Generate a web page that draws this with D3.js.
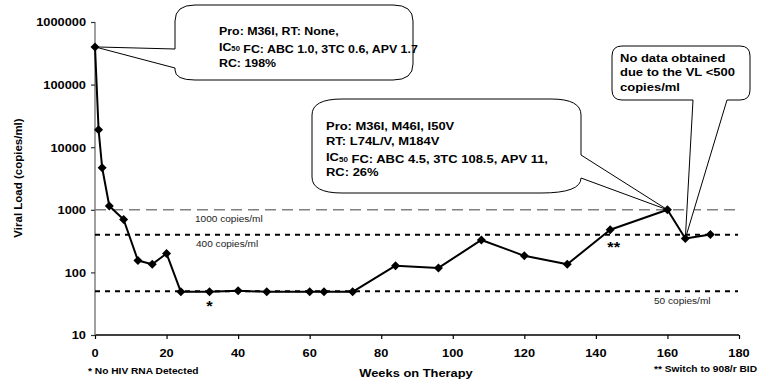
<!DOCTYPE html>
<html>
<head>
<meta charset="utf-8">
<script src="https://cdn.jsdelivr.net/npm/d3@7"></script>
<style>
  body { margin: 0; background: #fff; }
  svg { font-family: Arial, "Liberation Sans", sans-serif; }
</style>
</head>
<body>
<div id="chart"></div>
<script>
///////////////////////////
// DATA
///////////////////////////

const weeks = [0, 1, 2, 4, 8, 12, 16, 20, 24, 32, 40, 48, 60, 64, 72, 84, 96, 108, 120, 132, 144, 160, 165, 172];
const viralLoad = [400000, 19000, 4700, 1150, 700, 155, 135, 200, 49, 49, 51, 49, 49, 49, 49, 128, 118, 330, 184, 135, 480, 1000, 347, 402];

const xTicks = [0, 20, 40, 60, 80, 100, 120, 140, 160, 180];
const yTicks = [10, 100, 1000, 10000, 100000, 1000000];

const refValues = [1000, 400, 50];
const refLabels = ['1000 copies/ml', '400 copies/ml', '50 copies/ml'];

const box1Lines = ['Pro: M36I, RT: None,', 'IC|50| FC: ABC 1.0, 3TC 0.6, APV 1.7', 'RC: 198%'];
const box2Lines = ['Pro: M36I, M46I, I50V', 'RT: L74L/V, M184V', 'IC|50| FC: ABC 4.5, 3TC 108.5, APV 11,', 'RC: 26%'];
const box3Lines = ['No data obtained', 'due to the VL <500', 'copies/ml'];

///////////////////////////
// SETUP
///////////////////////////

const width = 759;
const height = 381;
const plot = { left: 95, right: 739, top: 22, bottom: 335 };

const svg = d3.select('#chart')
    .append('svg')
    .attr('width', width)
    .attr('height', height);

const x = d3.scaleLinear().domain([0, 180]).range([plot.left, plot.right]);
const y = d3.scaleLog().domain([10, 1000000]).range([plot.bottom, plot.top]);

const data = weeks.map((w, i) => ({ week: w, vl: viralLoad[i] }));

// text is a bit wide in the original, so stretch horizontally
const addText = (g, tx, ty, str, opts) => {
    const sx = opts.sx || 1;
    const t = g.append('text')
        .attr('transform', `translate(${tx},${ty}) scale(${sx},1)`)
        .attr('font-size', opts.size)
        .attr('font-weight', opts.weight || 'bold')
        .attr('fill', opts.fill || '#000')
        .attr('text-anchor', opts.anchor || 'start')
        .attr('dominant-baseline', 'central');
    // "|50|" marks a subscript
    str.split('|').forEach((part, i) => {
        if (!part) return;
        if (i % 2 === 1) {
            t.append('tspan').attr('font-size', opts.size * 0.62).attr('dy', 2).text(part);
            t.append('tspan').attr('dy', -2).text('');
        } else {
            t.append('tspan').text(part);
        }
    });
    return t;
}

///////////////////////////
// AXES
///////////////////////////

const xAxis = svg.append('g')
    .attr('transform', `translate(0,${plot.bottom})`)
    .call(d3.axisBottom(x).tickValues(xTicks).tickSize(4).tickFormat(''));
xAxis.select('.domain').attr('stroke', '#000').attr('stroke-width', 1.5).attr('d', `M${plot.left},0H${plot.right}`);
xAxis.selectAll('.tick line').attr('stroke', '#000').attr('stroke-width', 1.2);

const yAxis = svg.append('g')
    .attr('transform', `translate(${plot.left},0)`)
    .call(d3.axisLeft(y).tickValues(yTicks).tickSize(4).tickFormat(''));
yAxis.select('.domain').attr('stroke', '#808080').attr('stroke-width', 1.5).attr('d', `M0,${plot.top}V${plot.bottom}`);
yAxis.selectAll('.tick line').attr('stroke', '#333').attr('stroke-width', 1.2);

const labels = svg.append('g');
xTicks.forEach(t => addText(labels, x(t), 353, String(t), { size: 10.5, sx: 1.22, anchor: 'middle' }));
yTicks.forEach(t => addText(labels, plot.left - 9, y(t), String(t), { size: 10.5, sx: 1.22, anchor: 'end' }));

addText(labels, 416, 373, 'Weeks on Therapy', { size: 11.5, sx: 1.12, anchor: 'middle' });
labels.append('text')
    .attr('transform', `translate(18,178) rotate(-90)`)
    .attr('text-anchor', 'middle')
    .attr('dominant-baseline', 'central')
    .attr('font-size', 11.5)
    .attr('font-weight', 'bold')
    .text('Viral Load (copies/ml)');

///////////////////////////
// REFERENCE LINES
///////////////////////////

const refStyle = [
    { stroke: '#808080', dash: '11,6', w: 1.5 },
    { stroke: '#000', dash: '5,5', w: 2 },
    { stroke: '#000', dash: '5,5', w: 2 }
];

svg.append('g').selectAll('line')
    .data(refValues)
    .enter().append('line')
    .attr('x1', plot.left)
    .attr('x2', plot.right - 1)
    .attr('y1', d => y(d))
    .attr('y2', d => y(d))
    .attr('stroke', (d, i) => refStyle[i].stroke)
    .attr('stroke-width', (d, i) => refStyle[i].w)
    .attr('stroke-dasharray', (d, i) => refStyle[i].dash);

const refText = svg.append('g');
addText(refText, 195, y(refValues[0]) + 8, refLabels[0], { size: 9, sx: 1.12, weight: 'normal', fill: '#222' });
addText(refText, 196, y(refValues[1]) + 9, refLabels[1], { size: 9, sx: 1.12, weight: 'normal', fill: '#222' });
addText(refText, 654, y(refValues[2]) + 9, refLabels[2], { size: 9, sx: 1.12, weight: 'normal', fill: '#222' });

///////////////////////////
// CALLOUTS
///////////////////////////

const callouts = svg.append('g')
    .attr('fill', '#fff')
    .attr('stroke', '#000')
    .attr('stroke-width', 1);

// box 1 - pointer leaves the left side
{
    const x0 = 175, y0 = 5, x1 = 413, y1 = 80, rx = 20, ry = 16;
    const tx = x(weeks[0]), ty = y(viralLoad[0]);
    const p = d3.path();
    p.moveTo(x0 + rx, y0);
    p.lineTo(x1 - rx, y0);
    p.quadraticCurveTo(x1, y0, x1, y0 + ry);
    p.lineTo(x1, y1 - ry);
    p.quadraticCurveTo(x1, y1, x1 - rx, y1);
    p.lineTo(x0 + rx, y1);
    p.quadraticCurveTo(x0, y1, x0, y1 - 10);
    p.lineTo(x0, 68);
    p.lineTo(tx, ty);
    p.lineTo(x0, 49);
    p.lineTo(x0, y0 + ry);
    p.quadraticCurveTo(x0, y0, x0 + rx, y0);
    p.closePath();
    callouts.append('path').attr('d', p.toString());
    box1Lines.forEach((l, i) => addText(svg, 219, 31 + i * 16, l, { size: 10.5, sx: 1.18 }));
}

// box 2 - pointer leaves the lower right corner
{
    const x0 = 312, y0 = 99, x1 = 581, y1 = 193, rx = 30, ry = 16;
    const tx = x(weeks[21]), ty = y(viralLoad[21]);
    const p = d3.path();
    p.moveTo(x0 + rx, y0);
    p.lineTo(x1 - rx, y0);
    p.quadraticCurveTo(x1, y0, x1, y0 + ry);
    p.lineTo(x1, 155);
    p.lineTo(tx, ty);
    p.lineTo(x1, 178);
    p.quadraticCurveTo(x1, y1, x1 - rx - 10, y1);
    p.lineTo(x0 + rx, y1);
    p.quadraticCurveTo(x0, y1, x0, y1 - ry);
    p.lineTo(x0, y0 + ry);
    p.quadraticCurveTo(x0, y0, x0 + rx, y0);
    p.closePath();
    callouts.append('path').attr('d', p.toString());
    box2Lines.forEach((l, i) => addText(svg, 326, 126 + i * 15.5, l, { size: 11, sx: 1.18 }));
}

// box 3 - pointer leaves the bottom
{
    const x0 = 612, y0 = 46, x1 = 750, y1 = 100, r = 10;
    const tx = x(weeks[22]), ty = y(viralLoad[22]);
    const p = d3.path();
    p.moveTo(x0 + r, y0);
    p.lineTo(x1 - r, y0);
    p.quadraticCurveTo(x1, y0, x1, y0 + r);
    p.lineTo(x1, y1 - r);
    p.quadraticCurveTo(x1, y1, x1 - r, y1);
    p.lineTo(727, y1);
    p.lineTo(tx, ty);
    p.lineTo(693, y1);
    p.lineTo(x0 + r, y1);
    p.quadraticCurveTo(x0, y1, x0, y1 - r);
    p.lineTo(x0, y0 + r);
    p.quadraticCurveTo(x0, y0, x0 + r, y0);
    p.closePath();
    callouts.append('path').attr('d', p.toString());
    box3Lines.forEach((l, i) => addText(svg, 620, 58 + i * 14.5, l, { size: 11.5, sx: 1.13 }));
}

///////////////////////////
// SERIES
///////////////////////////

const line = d3.line()
    .x(d => x(d.week))
    .y(d => y(d.vl));

svg.append('path')
    .datum(data)
    .attr('fill', 'none')
    .attr('stroke', '#000')
    .attr('stroke-width', 2)
    .attr('stroke-linejoin', 'round')
    .attr('d', line);

svg.append('g').selectAll('.point')
    .data(data)
    .enter().append('path')
    .attr('class', 'point')
    .attr('transform', d => `translate(${x(d.week)},${y(d.vl)})`)
    .attr('d', 'M0,-4.5L4.5,0L0,4.5L-4.5,0Z')
    .attr('fill', '#000');

///////////////////////////
// NOTES
///////////////////////////

const notes = svg.append('g');
addText(notes, x(32), 305, '*', { size: 15, sx: 1.1, anchor: 'middle' });
addText(notes, x(145), 246, '**', { size: 15, sx: 1.1, anchor: 'middle' });
addText(notes, 88, 371, '* No HIV RNA Detected', { size: 8.5, sx: 1.2 });
addText(notes, 654, 369, '** Switch to 908/r BID', { size: 8.5, sx: 1.2 });
</script>
</body>
</html>
